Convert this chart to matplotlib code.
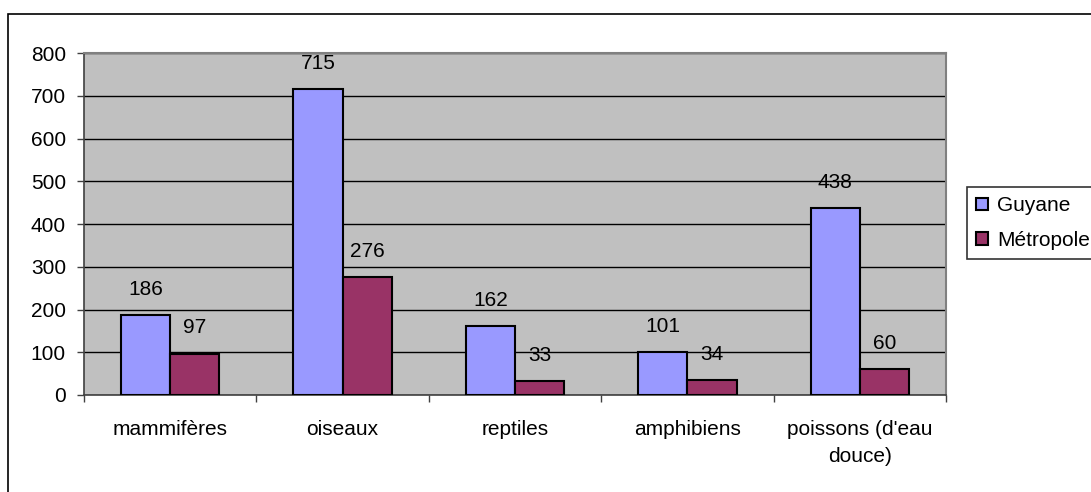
import matplotlib.pyplot as plt
import numpy as np
from matplotlib.patches import Rectangle

plt.rcParams['font.family'] = ['Liberation Sans', 'DejaVu Sans']

categories = ['mammifères', 'oiseaux', 'reptiles', 'amphibiens', "poissons (d'eau\ndouce)"]
guyane = [186, 715, 162, 101, 438]
metropole = [97, 276, 33, 34, 60]
series_names = ['Guyane', 'Métropole']

fig = plt.figure(figsize=(10.91, 4.92), dpi=100)
ax = fig.add_axes([84 / 1091, 1 - 395 / 492, (946 - 84) / 1091, (395 - 53) / 492])

# cadre extérieur du graphique
fig.patches.append(Rectangle((8 / 1091, -0.1), 1.2, 1 - 14 / 492 + 0.1,
                             transform=fig.transFigure, fill=False,
                             edgecolor='black', linewidth=1.2, zorder=0))

x = np.arange(len(categories))
w = 1 / 3.5
b1 = ax.bar(x - w / 2, guyane, w, color='#9999FF', edgecolor='black', linewidth=1.5,
            label=series_names[0], zorder=3)
b2 = ax.bar(x + w / 2, metropole, w, color='#993366', edgecolor='black', linewidth=1.5,
            label=series_names[1], zorder=3)

for bars, vals in [(b1, guyane), (b2, metropole)]:
    for r, v in zip(bars, vals):
        ax.annotate(str(v), (r.get_x() + r.get_width() / 2, v), xytext=(0, 18.5),
                    textcoords='offset points', ha='center', va='center', fontsize=15)

ax.set_facecolor('#C0C0C0')
ax.set_xlim(-0.5, len(categories) - 0.5)
ax.set_ylim(0, 800)
ax.set_yticks(range(0, 801, 100))
ax.yaxis.grid(True, color='black', linewidth=1)
ax.set_axisbelow(True)

ax.set_xticks(x)
ax.set_xticklabels(categories, fontsize=15, linespacing=1.55)
ax.set_xticks(np.arange(-0.5, len(categories)), minor=True)
ax.tick_params(axis='x', which='major', length=0, pad=18)
ax.tick_params(axis='x', which='minor', length=5, width=1, color='#404040')
ax.tick_params(axis='y', length=5, width=1, color='#404040', labelsize=15, pad=8)

for s in ['top', 'right']:
    ax.spines[s].set_color('#808080')
    ax.spines[s].set_linewidth(1.5)
for s in ['left', 'bottom']:
    ax.spines[s].set_color('#404040')
    ax.spines[s].set_linewidth(1.2)

leg = ax.legend(loc='center left', bbox_to_anchor=(967 / 1091, 1 - 223 / 492),
                bbox_transform=fig.transFigure, fontsize=15, frameon=True, fancybox=False,
                handlelength=0.55, handleheight=0.55, handletextpad=0.45, labelspacing=0.75,
                borderpad=0.45, borderaxespad=0)
leg.get_frame().set_edgecolor('black')
leg.get_frame().set_linewidth(1.2)

fig.savefig('out.png', dpi=100)
